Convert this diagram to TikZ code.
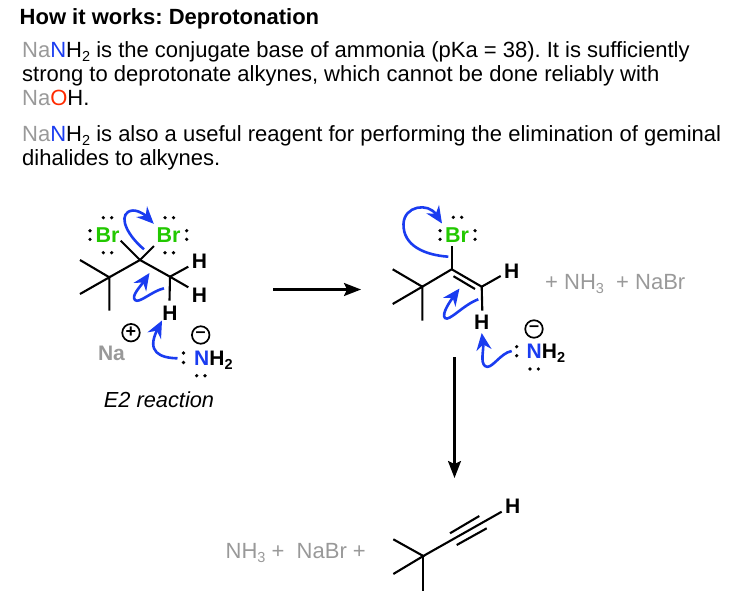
\documentclass[tikz,border=0pt]{standalone}
\usepackage{fontspec}
\setmainfont{Liberation Sans}
\usetikzlibrary{arrows.meta}
\definecolor{gry}{HTML}{999999}
\definecolor{blu}{HTML}{1A3CF0}
\definecolor{grn}{HTML}{22C800}
\definecolor{rd}{HTML}{FF2A00}
\frenchspacing
\newcommand{\fsz}[1]{\fontsize{#1}{#1}\selectfont}
\newcommand{\sbs}[2]{\raisebox{-#2pt}{\fsz{14.5}#1}}
\tikzset{
  x=1pt,y=-1pt,
  body/.style={anchor=base west,inner sep=0pt,font=\fsz{22}},
  title/.style={anchor=base west,inner sep=0pt,font=\fsz{22}\bfseries},
  atom/.style={inner sep=0pt,font=\fsz{21}\bfseries},
  brom/.style={atom,text=grn,font=\fsz{21.5}\bfseries},
  bond/.style={line width=2.1pt,black},
  rxn/.style={line width=2.1pt,black,-{Stealth[length=17pt,width=13pt,inset=3pt]}},
  push/.style={line width=2.6pt,blu,-{Stealth[length=17pt,width=15pt,inset=5.5pt]}},
  charge/.style={circle,draw,line width=1.7pt,minimum size=17.5pt,inner sep=0pt,font=\fsz{18}\bfseries},
  lp/.style={fill=black,circle,inner sep=0pt,minimum size=3.6pt},
  plain/.style={anchor=base west,inner sep=0pt,text=gry,font=\fsz{22}},
}
\begin{document}
\begin{tikzpicture}
\useasboundingbox (0,0) rectangle (736,602);
% text block
\node[title] (t0) at (19.5,25) {How it works: Deprotonation};
\node[body] (t1) at (22,57.7) {\textcolor{gry}{Na}\textcolor{blu}{N}H\sbs{2}{4} is the conjugate base of ammonia (pKa = 38). It is sufficiently};
\node[body] (t2) at (22,81.7) {strong to deprotonate alkynes, which cannot be done reliably with};
\node[body] (t3) at (22,105.7) {\textcolor{gry}{Na}\textcolor{rd}{O}H.};
\node[body] (t4) at (22,141) {\textcolor{gry}{Na}\textcolor{blu}{N}H\sbs{2}{4} is also a useful reagent for performing the elimination of geminal};
\node[body] (t5) at (22,165) {dihalides to alkynes.};

% left molecule
\coordinate (a1) at (140,260);
\coordinate (a2) at (109.3,277.3);
\coordinate (a3) at (170,276.7);
\coordinate (m1) at (80,260);
\coordinate (m2) at (80,294);
\coordinate (m3) at (109.3,310.7);
\coordinate (b1) at (120.7,240.7);
\coordinate (b2) at (154,246);
\coordinate (h1e) at (188.3,266.7);
\coordinate (h2e) at (188.3,287.3);
\coordinate (h3e) at (169.5,300.7);
\draw[bond,line join=round] (m1) -- (a2) -- (a1) -- (a3) -- (h1e);
\draw[bond] (m2) -- (a2) -- (m3);
\draw[bond] (a3) -- (h2e);
\draw[bond] (a3) -- (h3e);
\draw[bond] (a1) -- (b1);
\draw[bond] (a1) -- (b2);
\node[brom] (brl) at (107.5,235.5) {Br};
\node[brom] (brr) at (168.5,235.5) {Br};
\node[atom] (hl1) at (199.5,261) {H};
\node[atom] (hl2) at (199.5,295.5) {H};
\node[atom] (hl3) at (170,313) {H};
\node[anchor=base,inner sep=0pt,text=gry,font=\fsz{21}\bfseries] (na) at (111.5,360) {Na};
\node[charge] (pl) at (131,332.7) {+};
\node[charge] (ml) at (200.7,335) {–};
\node[anchor=base west,inner sep=0pt,font=\fsz{21}\bfseries] (nl) at (194,365.5) {\textcolor{blu}{N}H\sbs{2}{4}};
\node[anchor=base,inner sep=0pt,font=\fsz{21.8}\itshape] (e2) at (159,407.5) {E2 reaction};
\foreach \x/\y in {90/230.7,90/239.3,103.3/217.7,111.7/217.7,103.3/252.7,111.7/252.7,
  165/217.7,173.5/217.7,165/252.7,173.5/252.7,186.7/230.7,186.7/239.3,
  183.5/353,183.5/362.5,196.7/375.7,205/375.7}
  \node[lp] at (\x,\y) {};
\coordinate (p1s) at (144,249.3);
\coordinate (p1e) at (153.8,223.8);
\draw[push] (p1s) .. controls (128,236) and (119,218) .. (128,212) .. controls (134,208) and (143,213) .. (p1e);
\coordinate (p2s) at (164,288.3);
\coordinate (p2e) at (149.5,273);
\draw[push] (p2s) .. controls (152,291) and (139,304) .. (135,300) .. controls (131,296) and (140,287) .. (p2e);
\coordinate (p3s) at (177.5,358.3);
\coordinate (p3e) at (162,320.5);
\draw[push] (p3s) .. controls (160,358) and (146,352) .. (p3e);

% reaction arrows
\coordinate (r1s) at (273,289.5);
\coordinate (r1e) at (361,289.5);
\draw[rxn] (r1s) -- (r1e);
\coordinate (r2s) at (454.5,357);
\coordinate (r2e) at (454.5,478);
\draw[rxn] (r2s) -- (r2e);

% right molecule
\coordinate (c1) at (451.7,269.3);
\coordinate (c2) at (422.3,286.7);
\coordinate (c3) at (481.7,286.7);
\coordinate (n1) at (392.7,269.3);
\coordinate (n2) at (392.7,304);
\coordinate (n3) at (422.3,320.7);
\coordinate (d1) at (453.5,276.2);
\coordinate (d2) at (475,289);
\coordinate (br3) at (451.7,246);
\coordinate (h4e) at (500.7,276);
\coordinate (h5e) at (482.3,310.7);
\draw[bond,line join=round] (n1) -- (c2) -- (c1) -- (c3) -- (h4e);
\draw[bond] (n2) -- (c2) -- (n3);
\draw[bond] (d1) -- (d2);
\draw[bond] (c1) -- (br3);
\draw[bond] (c3) -- (h5e);
\node[brom] (brm) at (457,235.5) {Br};
\node[atom] (hr1) at (511.7,271) {H};
\node[atom] (hr2) at (481.7,322) {H};
\node[charge] (mr) at (534,329) {–};
\node[anchor=base west,inner sep=0pt,font=\fsz{21}\bfseries] (nr) at (526.5,358.5) {\textcolor{blu}{N}H\sbs{2}{4}};
\foreach \x/\y in {453.3/217.3,461.7/217.3,440/230.7,440/239.3,475/230.7,475/239.3,
  516.7/346.7,516.7/355.7,530/369,538.3/369}
  \node[lp] at (\x,\y) {};
\coordinate (q1s) at (448.3,256.7);
\coordinate (q1e) at (442,223.5);
\draw[push] (q1s) .. controls (425,255) and (403,246) .. (403.5,224) .. controls (404,206) and (428,202) .. (q1e);
\coordinate (q2s) at (478.3,299.3);
\coordinate (q2e) at (459.5,288.5);
\draw[push] (q2s) .. controls (463,305) and (449,322) .. (445,318) .. controls (441,314) and (451,300) .. (q2e);
\coordinate (q3s) at (511.7,351);
\coordinate (q3e) at (481.7,333);
\draw[push] (q3s) .. controls (500,353) and (491,371) .. (485,366) .. controls (480,362) and (484,350) .. (q3e);
\node[plain] (prod1) at (545,289.5) {+ NH\sbs{3}{4}\ \ + NaBr};

% alkyne
\coordinate (e1) at (423.3,556);
\coordinate (k1) at (393.3,539.3);
\coordinate (k2) at (393.3,574);
\coordinate (k3) at (423.3,590.7);
\coordinate (e2e) at (501.7,511.7);
\coordinate (u1) at (450,533.3);
\coordinate (u2) at (479.3,516);
\coordinate (l1) at (456.7,545);
\coordinate (l2) at (486.7,528.3);
\draw[bond] (k1) -- (e1) -- (k2);
\draw[bond] (e1) -- (k3);
\draw[bond] (e1) -- (e2e);
\draw[bond] (u1) -- (u2);
\draw[bond] (l1) -- (l2);
\node[atom] (hb) at (512.7,506) {H};
\node[plain] (prod2) at (225.5,558) {NH\sbs{3}{4} +\ \ NaBr +};
\end{tikzpicture}
\end{document}
